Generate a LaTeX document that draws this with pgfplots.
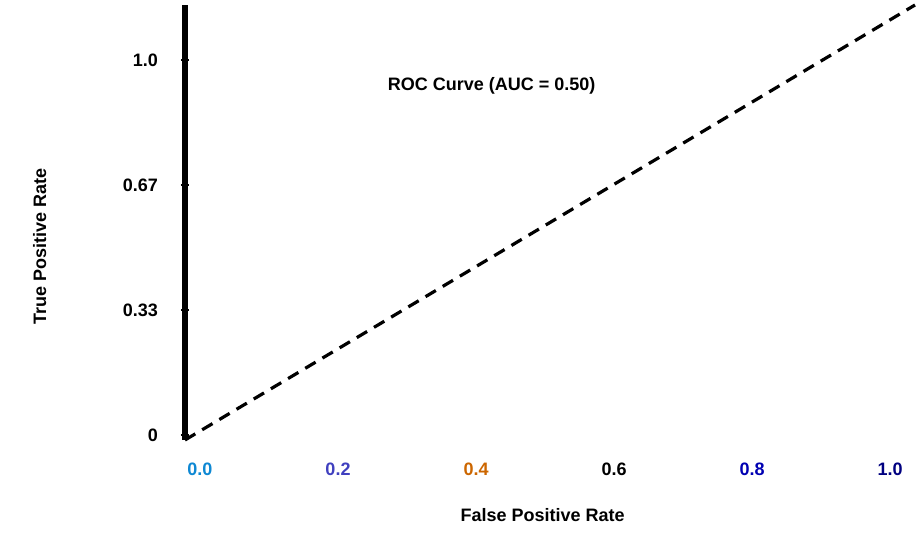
\documentclass[border=0pt]{standalone}
\usepackage{pgfplots}
\pgfplotsset{compat=1.18}
\usepackage{fontspec}
\setmainfont{Liberation Sans}
\begin{document}
\begin{tikzpicture}
\useasboundingbox (-92.5pt,-49.5pt) rectangle (369pt,220pt);
\begin{axis}[
  at={(0,0)}, anchor=south west,
  scale only axis,
  width=365pt, height=217.5pt,
  xmin=-0.0217, xmax=1.036,
  ymin=-0.04, ymax=3.44,
  axis lines=left,
  x axis line style={draw=none},
  y axis line style={line width=2.6pt, -},
  xtick={0,0.2,0.4,0.6,0.8,1.0},
  xticklabels={\textcolor{cyan!70!blue}{0.0},\textcolor{blue!50!gray}{0.2},\textcolor{orange!80!black}{0.4},0.6,\textcolor{blue!70!black}{0.8},\textcolor{blue!50!black}{1.0}},
  ytick={0,1,2,3},
  yticklabels={0,0.33,0.67,1.0},
  x tick style={draw=none},
  y tick style={black, line width=0.6pt},
  major tick length=4pt,
  xticklabel style={font=\bfseries\small, yshift=-6pt},
  yticklabel style={font=\bfseries\small, xshift=-8pt},
  /pgf/number format/assume math mode=true,
  xlabel={\bfseries False Positive Rate},
  ylabel={\bfseries True Positive Rate},
  xlabel style={font=\small, at={(axis description cs:0.49,-0.172)}, anchor=center},
  ylabel style={font=\small, at={(axis description cs:-0.199,0.444)}, anchor=center},
  clip=false,
]
\addplot[black, line width=1.6pt, dash pattern=on 6pt off 4pt] coordinates {(-0.0217,-0.04) (1.036,3.44)};
\node[font=\bfseries\small] at (axis description cs:0.42,0.815) {ROC Curve (AUC = 0.50)};
\end{axis}
\end{tikzpicture}
\end{document}
